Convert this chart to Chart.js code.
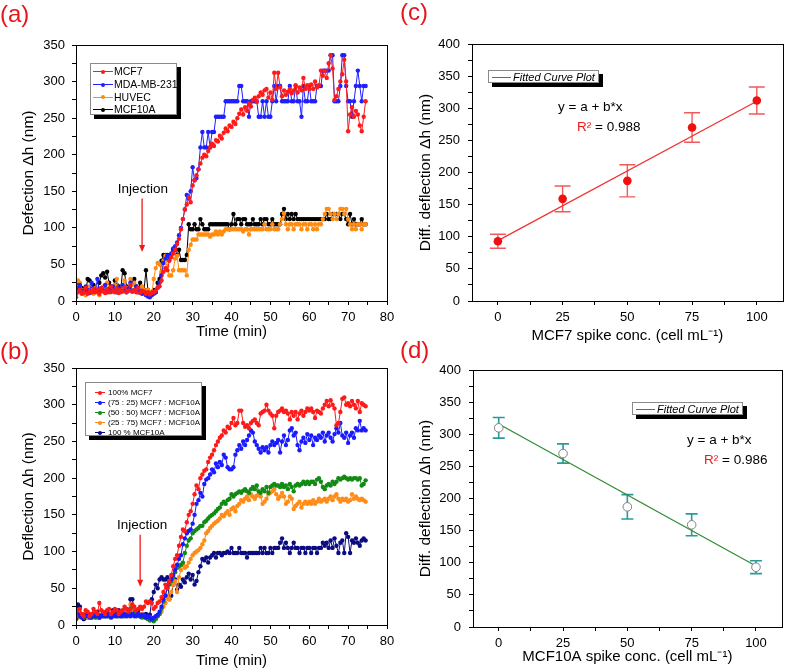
<!DOCTYPE html>
<html>
<head>
<meta charset="utf-8">
<script src="https://cdn.jsdelivr.net/npm/chart.js@4.4.0/dist/chart.umd.min.js"></script>
<style>
  body { margin: 0; background: #fff; width: 787px; height: 671px; position: relative; overflow: hidden;
         font-family: "Liberation Sans", Arial, sans-serif; color: #000; }
  canvas { position: absolute; }
  .panel { position: absolute; color: #e8141c; font-size: 24px; line-height: 1; }
  .legend { position: absolute; box-sizing: border-box; background: #fff; border: 1px solid #8a8a8a;
            box-shadow: 4px 4px 0 #000; }
  .row { position: relative; white-space: nowrap; display: flex; align-items: center; }
  .sample { position: relative; flex: none; height: 100%; }
  .sample .ln { position: absolute; left: 0; right: 0; top: 50%; height: 1px; }
  .sample .dot { position: absolute; left: 50%; top: 50%; width: 4px; height: 4px; margin: -1.5px 0 0 -2px; border-radius: 50%; }
  .txt { position: absolute; font-size: 13.5px; line-height: 1; white-space: nowrap; }
  .red { color: #f01818; }
</style>
</head>
<body>
<canvas id="chartA" width="400" height="346" style="left:0;top:0"></canvas>
<canvas id="chartB" width="400" height="331" style="left:0;top:340px"></canvas>
<canvas id="chartC" width="387" height="346" style="left:400px;top:0"></canvas>
<canvas id="chartD" width="387" height="331" style="left:400px;top:340px"></canvas>

<div class="panel" style="left:0;top:2px">(a)</div>
<div class="panel" style="left:0;top:339px">(b)</div>
<div class="panel" style="left:400px;top:0">(c)</div>
<div class="panel" style="left:400px;top:338px">(d)</div>

<div id="legA" class="legend" style="left:90px;top:63px;width:87px;height:52px;padding:1px 0 0 2px;font-size:10.5px"></div>
<div id="legB" class="legend" style="left:85px;top:382px;width:117px;height:54px;padding:4px 0 0 9px;font-size:8px"></div>
<div id="legC" class="legend" style="left:488px;top:70px;width:111px;height:13px;padding:0 0 0 3px;font-size:11px;font-style:italic"></div>
<div id="legD" class="legend" style="left:632px;top:402px;width:111px;height:13px;padding:0 0 0 3px;font-size:11px;font-style:italic"></div>

<div class="txt" style="left:558px;top:100px">y = a + b*x</div>
<div class="txt" style="left:577px;top:120px"><span class="red">R²</span> = 0.988</div>
<div class="txt" style="left:687px;top:433px">y = a + b*x</div>
<div class="txt" style="left:704px;top:453px"><span class="red">R²</span> = 0.986</div>

<script>
// readings every half minute, starting at t = 0
const timeStep = 0.5;

// (a) single cell lines
const aMCF7 = [
  5, 12, 15, 10, 12, 18, 10, 14, 12, 16,
  12, 15, 10, 18, 13, 11, 16, 12, 20, 14,
  12, 17, 11, 15, 13, 19, 12, 14, 22, 13,
  15, 12, 18, 11, 14, 13, 10, 12, 9, 11,
  12, 14, 18, 20, 28, 40, 45, 42, 55, 60,
  65, 70, 78, 85, 98, 112, 125, 132, 142, 135,
  158, 165, 172, 180, 188, 196, 200, 198, 205, 210,
  215, 212, 220, 218, 226, 222, 230, 236, 232, 240,
  238, 245, 242, 250, 256, 262, 255, 265, 260, 270,
  266, 275, 278, 272, 280, 285, 282, 288, 290, 278,
  285, 275, 312, 290, 312, 292, 280, 288, 282, 286,
  290, 284, 288, 295, 285, 292, 288, 305, 290, 295,
  290, 296, 290, 300, 292, 295, 315, 308, 315, 305,
  325, 336, 318, 275, 280, 290, 300, 310, 330, 300,
  232, 255, 265, 252, 260, 255, 240, 232, 252, 273
];
const aMDA = [
  10, 18, 22, 14, 12, 20, 15, 11, 25, 13,
  15, 30, 12, 18, 14, 22, 12, 16, 13, 20,
  14, 12, 18, 13, 22, 14, 12, 17, 25, 13,
  15, 20, 12, 14, 10, 12, 8, 6, 5, 8,
  10, 12, 18, 25, 35, 52, 58, 62, 60, 65,
  72, 75, 80, 90, 100, 112, 125, 145, 140, 150,
  183, 165, 168, 180, 210, 231, 210, 210, 231, 210,
  231, 231, 252, 252, 252, 252, 252, 273, 273, 273,
  273, 273, 273, 273, 294, 294, 273, 273, 273, 252,
  273, 273, 273, 273, 252, 252, 273, 252, 273, 252,
  252, 273, 294, 273, 294, 294, 273, 273, 273, 273,
  294, 273, 273, 294, 273, 273, 252, 294, 273, 273,
  294, 273, 273, 273, 294, 294, 294, 315, 315, 315,
  315, 336, 336, 273, 273, 273, 294, 336, 336, 294,
  273, 273, 252, 273, 294, 315, 294, 273, 294, 294
];
const aHUVEC = [
  20, 28, 25, 15, 10, 8, 12, 20, 14, 10,
  18, 12, 8, 15, 20, 12, 25, 18, 12, 15,
  22, 30, 15, 12, 20, 28, 18, 15, 30, 22,
  25, 18, 15, 12, 20, 15, 12, 15, 12, 10,
  30, 45, 52, 50, 40, 55, 62, 48, 35, 35,
  42, 58, 62, 42, 42, 42, 42, 35, 70, 77,
  84, 84, 84, 91, 91, 91, 91, 91, 91, 88,
  91, 91, 95, 91, 95, 91, 95, 98, 98, 98,
  98, 98, 98, 98, 98, 98, 95, 98, 98, 91,
  98, 98, 98, 98, 98, 98, 98, 105, 98, 98,
  98, 105, 98, 98, 98, 105, 112, 120, 105, 98,
  105, 105, 98, 105, 105, 105, 98, 105, 105, 98,
  105, 105, 98, 105, 98, 105, 105, 112, 119, 126,
  126, 119, 112, 119, 112, 119, 126, 126, 119, 126,
  112, 105, 98, 105, 98, 105, 105, 98, 105, 105
];
const aMCF10A = [
  15, 25, 20, 18, 15, 12, 30, 28, 20, 22,
  18, 15, 25, 35, 38, 32, 40, 25, 20, 15,
  28, 22, 20, 15, 42, 38, 20, 18, 15, 25,
  30, 20, 15, 25, 12, 15, 42, 15, 10, 12,
  15, 12, 25, 30, 55, 63, 63, 63, 56, 63,
  70, 70, 63, 70, 56, 56, 56, 63, 105, 98,
  98, 105, 98, 98, 112, 105, 98, 98, 98, 105,
  105, 105, 105, 105, 105, 105, 105, 105, 105, 98,
  105, 119, 105, 112, 112, 105, 112, 112, 105, 105,
  105, 112, 105, 105, 105, 112, 105, 112, 112, 105,
  105, 112, 105, 105, 105, 105, 119, 126, 112, 119,
  112, 119, 112, 119, 112, 112, 112, 112, 112, 112,
  112, 112, 112, 112, 112, 112, 112, 112, 112, 119,
  112, 112, 119, 119, 119, 119, 112, 119, 119, 112,
  105, 119, 105, 112, 105, 105, 105, 112, 105, 105
];

// (b) MCF7 : MCF10A mixtures
const bMCF7 = [
  12, 20, 22, 15, 12, 20, 18, 12, 15, 22,
  18, 15, 30, 20, 18, 15, 20, 22, 15, 18,
  22, 20, 15, 18, 20, 25, 22, 18, 22, 28,
  25, 20, 22, 25, 22, 25, 32, 30, 32, 30,
  22, 25, 30, 32, 38, 45, 55, 50, 60, 68,
  80, 90, 95, 108, 120, 130, 128, 140, 150, 155,
  165, 178, 190, 185, 200, 205, 210, 212, 222, 228,
  232, 238, 245, 250, 255, 258, 265, 262, 270, 268,
  275, 282, 272, 275, 292, 292, 275, 270, 272, 268,
  275, 278, 280, 275, 272, 288, 290, 292, 300, 292,
  288, 285, 268, 285, 290, 292, 295, 290, 292, 288,
  280, 290, 285, 290, 280, 288, 292, 285, 290, 295,
  292, 295, 290, 282, 292, 290, 288, 295, 300, 305,
  298, 306, 300, 295, 272, 275, 290, 308, 310, 300,
  302, 298, 305, 300, 295, 305, 290, 302, 300, 298
];
const b75 = [
  8, 15, 12, 10, 14, 12, 15, 10, 12, 14,
  12, 15, 10, 13, 12, 15, 12, 14, 10, 12,
  15, 12, 14, 12, 13, 15, 12, 14, 12, 15,
  12, 13, 15, 12, 14, 12, 10, 12, 10, 8,
  10, 12, 14, 18, 25, 35, 40, 52, 60, 62,
  68, 75, 82, 90, 95, 110, 118, 125, 128, 130,
  138, 150, 165, 170, 180, 175, 192, 198, 200, 205,
  212, 208, 220, 215, 222, 218, 232, 228, 215, 212,
  212, 215, 232, 238, 245, 240, 250, 245, 252, 258,
  265, 262, 250, 245, 240, 235, 242, 238, 242, 235,
  245, 250, 245, 248, 252, 235, 250, 258, 245, 252,
  265, 268, 258, 262, 245, 238, 250, 255, 248, 260,
  252, 258, 245, 255, 252, 258, 255, 262, 250, 258,
  262, 255, 250, 260, 268, 262, 275, 258, 255, 262,
  248, 258, 262, 255, 268, 265, 278, 265, 268, 265
];
const b50 = [
  10, 12, 14, 12, 10, 12, 15, 12, 14, 12,
  10, 15, 12, 13, 16, 12, 14, 12, 15, 13,
  12, 14, 12, 15, 13, 12, 14, 20, 15, 25,
  15, 12, 14, 12, 10, 12, 10, 8, 6, 8,
  5, 8, 12, 15, 22, 32, 40, 50, 55, 60,
  65, 72, 78, 80, 82, 85, 98, 108, 115, 118,
  125, 128, 130, 132, 135, 135, 140, 142, 145, 148,
  150, 152, 155, 158, 160, 165, 168, 165, 170, 172,
  178, 175, 178, 180, 182, 180, 183, 185, 182, 180,
  185, 188, 185, 190, 182, 180, 185, 182, 188, 180,
  188, 190, 192, 190, 190, 188, 192, 188, 190, 185,
  192, 188, 182, 190, 192, 190, 192, 195, 192, 195,
  192, 195, 195, 192, 198, 200, 195, 188, 185, 190,
  192, 190, 195, 192, 195, 200, 198, 200, 202, 200,
  198, 200, 198, 200, 200, 198, 200, 190, 192, 197
];
const b25 = [
  12, 10, 14, 12, 15, 12, 10, 14, 12, 15,
  12, 13, 10, 14, 12, 15, 12, 14, 12, 13,
  15, 12, 14, 12, 15, 18, 15, 12, 28, 20,
  15, 12, 14, 12, 15, 12, 10, 8, 10, 8,
  8, 10, 12, 15, 18, 25, 30, 40, 35, 45,
  55, 60, 45, 65, 75, 82, 78, 80, 85, 90,
  95, 98, 100, 102, 105, 110, 115, 125, 128, 132,
  135, 138, 140, 142, 145, 150, 148, 152, 155, 150,
  158, 160, 155, 162, 165, 170, 168, 172, 175, 170,
  178, 175, 172, 176, 178, 175, 165, 168, 172, 178,
  180, 182, 185, 178, 172, 175, 180, 175, 165, 168,
  175, 172, 158, 162, 165, 168, 160, 165, 168, 165,
  168, 165, 170, 165, 168, 172, 168, 170, 172, 168,
  172, 175, 170, 175, 178, 172, 168, 172, 170, 172,
  168, 170, 178, 172, 175, 172, 170, 172, 170, 168
];
const bMCF10A = [
  12, 28, 25, 12, 8, 10, 15, 12, 10, 15,
  12, 18, 10, 12, 15, 12, 18, 15, 12, 20,
  15, 18, 20, 15, 12, 18, 22, 15, 35, 35,
  18, 15, 20, 12, 15, 12, 15, 12, 14, 35,
  45, 55, 50, 62, 65, 62, 62, 65, 35, 40,
  55, 62, 48, 55, 52, 62, 58, 65, 70, 62,
  68, 55, 60, 72, 80, 90, 88, 92, 85, 92,
  95, 98, 92, 98, 98, 95, 98, 98, 100, 98,
  105, 98, 98, 98, 105, 98, 98, 98, 92, 98,
  98, 98, 98, 98, 98, 105, 98, 105, 98, 98,
  105, 98, 105, 105, 105, 112, 118, 105, 112, 105,
  98, 105, 112, 105, 105, 98, 105, 105, 98, 105,
  105, 98, 105, 105, 98, 105, 105, 112, 108, 112,
  105, 115, 105, 118, 108, 98, 112, 115, 98, 125,
  120, 98, 115, 112, 118, 112, 108, 115, 118, 115
];

// (c) and (d) spike tests
const spikeConc = [0, 25, 50, 75, 100];
const cMean = [93, 159, 187, 270, 312];
const cErr = [11, 20, 25, 23, 21];
const cFitX = [0, 100];
const cFitY = [94, 311];
const dMean = [310, 270, 187, 159, 93];
const dErr = [16, 15, 19, 17, 10];
const dFitX = [0, 100];
const dFitY = [316, 95];

Chart.defaults.font.family = '"Liberation Sans", Arial, sans-serif';
Chart.defaults.color = '#000';
Chart.defaults.animation = false;

const extras = {
  id: 'extras',
  beforeDatasetsDraw(chart, args, opts) {
    if (!opts.errors) return;
    const ctx = chart.ctx, xs = chart.scales.x, ys = chart.scales.y;
    ctx.save();
    ctx.strokeStyle = opts.errColor;
    ctx.lineWidth = opts.errWidth;
    opts.errors.forEach((e, i) => {
      const px = xs.getPixelForValue(opts.errX[i]);
      const top = ys.getPixelForValue(opts.errY[i] + e);
      const bot = ys.getPixelForValue(opts.errY[i] - e);
      const w = opts.capWidth / 2;
      ctx.beginPath();
      ctx.moveTo(px, top); ctx.lineTo(px, bot);
      ctx.moveTo(px - w, top); ctx.lineTo(px + w, top);
      ctx.moveTo(px - w, bot); ctx.lineTo(px + w, bot);
      ctx.stroke();
    });
    ctx.restore();
  },
  afterDraw(chart, args, opts) {
    const ctx = chart.ctx, a = chart.chartArea;
    ctx.save();
    ctx.strokeStyle = '#000';
    ctx.lineWidth = 1;
    ctx.strokeRect(Math.round(a.left) + 0.5, Math.round(a.top) + 0.5,
                   Math.round(a.right - a.left), Math.round(a.bottom - a.top));
    const inj = opts.injection;
    if (inj) {
      const xs = chart.scales.x, ys = chart.scales.y;
      const ax = xs.getPixelForValue(inj.x);
      const y1 = ys.getPixelForValue(inj.top), y2 = ys.getPixelForValue(inj.bottom);
      ctx.strokeStyle = '#f01818';
      ctx.fillStyle = '#f01818';
      ctx.lineWidth = 1.3;
      ctx.beginPath(); ctx.moveTo(ax, y1); ctx.lineTo(ax, y2 - 5); ctx.stroke();
      ctx.beginPath(); ctx.moveTo(ax - 3, y2 - 7); ctx.lineTo(ax + 3, y2 - 7); ctx.lineTo(ax, y2); ctx.closePath(); ctx.fill();
      ctx.fillStyle = '#000';
      ctx.font = '13.5px "Liberation Sans", Arial, sans-serif';
      ctx.textAlign = 'center';
      ctx.textBaseline = 'middle';
      ctx.fillText('Injection', xs.getPixelForValue(inj.textX), ys.getPixelForValue(inj.textY));
    }
    ctx.restore();
  }
};
Chart.register(extras);

function axes(o) {
  return {
    x: {
      type: 'linear', min: o.xMin, max: o.xMax,
      afterFit: s => { s.height = o.xH; },
      border: { color: '#000' },
      grid: { drawOnChartArea: false, tickLength: 4, color: '#000' },
      ticks: { stepSize: o.xStep, autoSkip: false, maxRotation: 0, includeBounds: false, padding: 5,
               font: { size: 13 }, callback: v => (v % o.xLab === 0 ? v : '') },
      title: { display: true, text: o.xTitle, font: { size: 15 }, padding: { top: 0, bottom: o.xPad } }
    },
    y: {
      min: 0, max: o.yMax,
      afterFit: s => { s.width = o.yW; },
      border: { color: '#000' },
      grid: { drawOnChartArea: false, tickLength: 4, color: '#000' },
      ticks: { stepSize: 25, autoSkip: false, padding: o.yPad, font: { size: 13 },
               callback: v => (v % 50 === 0 ? v : '') },
      title: { display: true, text: o.yTitle, font: { size: 15.5 } }
    }
  };
}

function series(label, values, color) {
  return {
    label: label,
    data: values.map((v, i) => ({ x: i * timeStep, y: v })),
    borderColor: color, backgroundColor: color,
    borderWidth: 1, pointRadius: 2.2, pointBorderWidth: 0, pointBackgroundColor: color,
    tension: 0
  };
}

function baseOptions(pad, scales, extra) {
  return {
    responsive: false, animation: false, events: [],
    layout: { padding: pad },
    scales: scales,
    plugins: { legend: { display: false }, tooltip: { enabled: false }, extras: extra }
  };
}

const dsA = [
  series('MCF7', aMCF7, '#ff1a1a'),
  series('MDA-MB-231', aMDA, '#1f1fff'),
  series('HUVEC', aHUVEC, '#ff8c10'),
  series('MCF10A', aMCF10A, '#000000')
];
new Chart(document.getElementById('chartA'), {
  type: 'line',
  data: { datasets: dsA },
  options: baseOptions({ left: 15, top: 45, right: 13, bottom: 0 },
    axes({ xMin: 0, xMax: 80, xStep: 5, xLab: 10, xH: 45, xPad: 5, xTitle: 'Time (min)',
           yMax: 350, yW: 61, yPad: 7, yTitle: 'Defection \u0394h (nm)' }),
    { injection: { x: 17, textX: 17.2, textY: 153, top: 140, bottom: 67 } })
});

const dsB = [
  series('100% MCF7', bMCF7, '#ff1a1a'),
  series('(75 : 25) MCF7 : MCF10A', b75, '#1a1aff'),
  series('(50 : 50) MCF7 : MCF10A', b50, '#138a13'),
  series('(25 : 75) MCF7 : MCF10A', b25, '#ff8c1a'),
  series('100 % MCF10A', bMCF10A, '#0c0c82')
];
new Chart(document.getElementById('chartB'), {
  type: 'line',
  data: { datasets: dsB },
  options: baseOptions({ left: 15, top: 28, right: 13, bottom: 0 },
    axes({ xMin: 0, xMax: 80, xStep: 5, xLab: 10, xH: 46, xPad: 1, xTitle: 'Time (min)',
           yMax: 350, yW: 61, yPad: 7, yTitle: 'Deflection \u0394h (nm)' }),
    { injection: { x: 16.5, textX: 17, textY: 136, top: 123, bottom: 52 } })
});

function spikeChart(id, mean, err, fitX, fitY, o) {
  return new Chart(document.getElementById(id), {
    type: 'scatter',
    data: {
      datasets: [
        { label: 'data', data: spikeConc.map((c, i) => ({ x: c, y: mean[i] })),
          pointRadius: o.r, pointBackgroundColor: o.fill, pointBorderColor: o.edge, pointBorderWidth: o.edgeW },
        { label: 'Fitted Curve Plot', type: 'line', data: fitX.map((x, i) => ({ x: x, y: fitY[i] })),
          borderColor: o.fitColor, borderWidth: 1.2, pointRadius: 0 }
      ]
    },
    options: baseOptions(o.pad,
      axes({ xMin: -10, xMax: 110, xStep: 12.5, xLab: 25, xH: o.xH, xPad: o.xPad, xTitle: o.xTitle,
             yMax: 400, yW: o.yW, yPad: 8, yTitle: 'Diff. deflection \u0394h (nm)' }),
      { errors: err, errX: spikeConc, errY: mean, errColor: o.errColor, errWidth: o.errW, capWidth: o.cap })
  });
}

spikeChart('chartC', cMean, cErr, cFitX, cFitY, {
  r: 4.3, fill: '#f01010', edge: '#f01010', edgeW: 0, fitColor: '#f03030',
  errColor: '#f25a5a', errW: 1.4, cap: 16,
  pad: { left: 12, top: 44, right: 2, bottom: 0 }, xH: 45, xPad: 1, yW: 60,
  xTitle: 'MCF7 spike conc. (cell mL\u207B\u00B9)'
});
spikeChart('chartD', dMean, dErr, dFitX, dFitY, {
  r: 4.3, fill: '#ffffff', edge: '#808080', edgeW: 1, fitColor: '#2e8b2e',
  errColor: '#2a9a9a', errW: 1.6, cap: 12,
  pad: { left: 12, top: 30, right: 2, bottom: 0 }, xH: 44, xPad: 5, yW: 61,
  xTitle: 'MCF10A spike conc. (cell mL\u207B\u00B9)'
});

// html legends
function legend(id, items, rowH, sampleW, gap, withDot) {
  const box = document.getElementById(id);
  items.forEach(it => {
    const row = document.createElement('div');
    row.className = 'row';
    row.style.height = rowH + 'px';
    const s = document.createElement('span');
    s.className = 'sample';
    s.style.width = sampleW + 'px';
    s.style.marginRight = gap + 'px';
    s.innerHTML = '<span class="ln" style="background:' + it.color + '"></span>' +
      (withDot ? '<span class="dot" style="background:' + it.color + '"></span>' : '');
    row.appendChild(s);
    const t = document.createElement('span');
    t.textContent = it.label;
    row.appendChild(t);
    box.appendChild(row);
  });
}
legend('legA', dsA.map(d => ({ label: d.label, color: d.borderColor })), 12.7, 20, 1, true);
legend('legB', dsB.map(d => ({ label: d.label, color: d.borderColor })), 10, 10, 3, true);
legend('legC', [{ label: 'Fitted Curve Plot', color: '#f03030' }], 11, 19, 2, false);
legend('legD', [{ label: 'Fitted Curve Plot', color: '#2e8b2e' }], 11, 19, 2, false);
</script>
</body>
</html>
